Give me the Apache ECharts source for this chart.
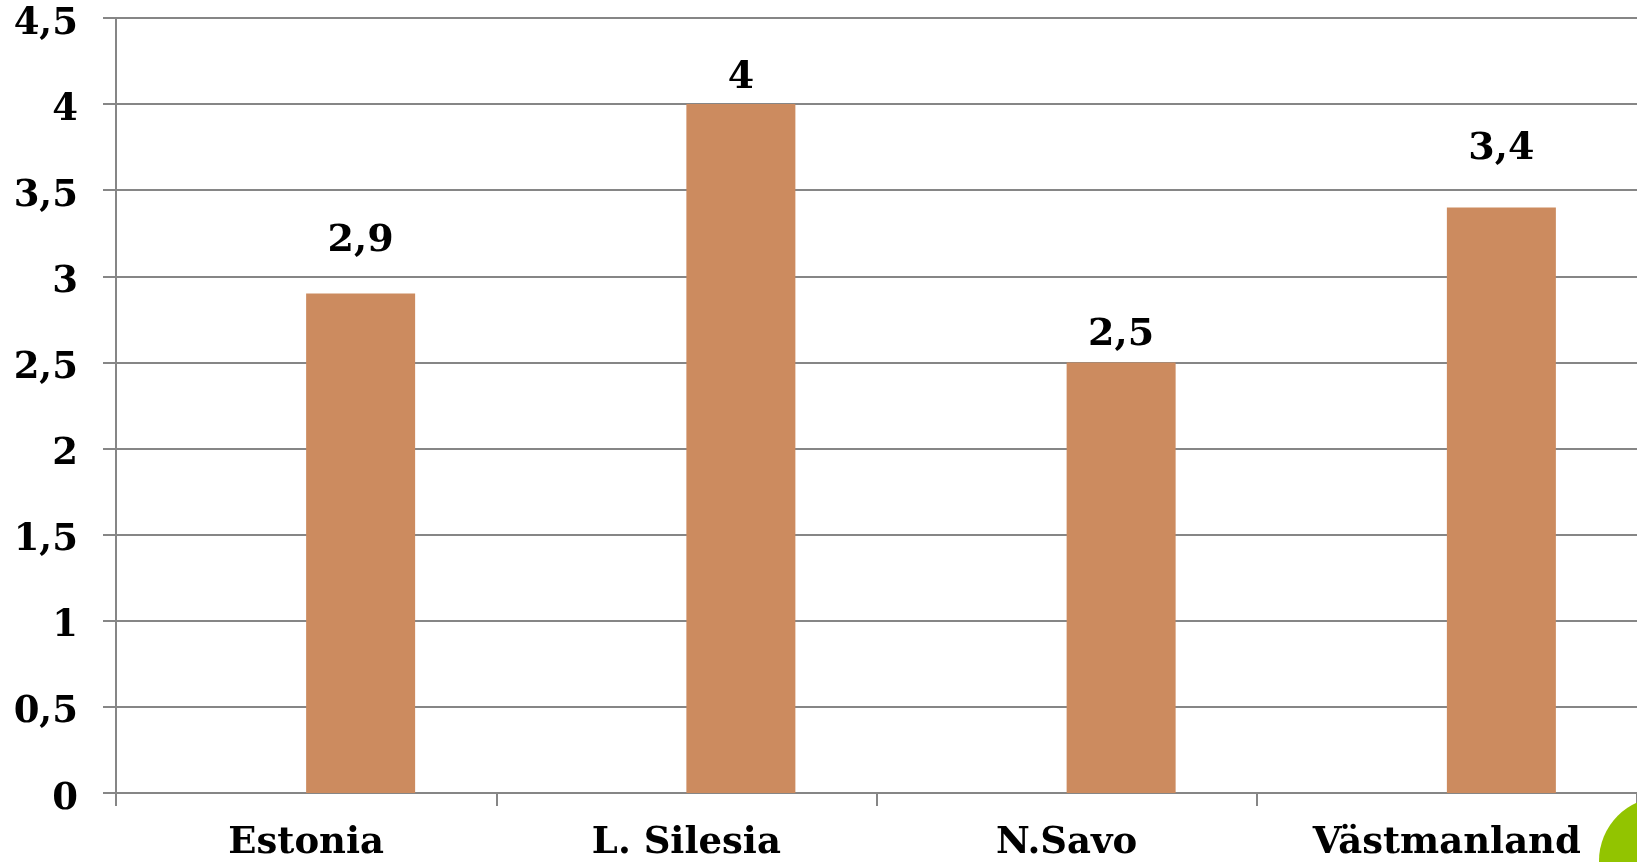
<!DOCTYPE html>
<html>
<head>
<meta charset="utf-8">
<script src="https://cdn.jsdelivr.net/npm/echarts@6/dist/echarts.min.js"></script>
<style>
  html, body { margin: 0; padding: 0; background: #ffffff; }
  #chart { width: 1637px; height: 862px; }
</style>
</head>
<body>
<div id="chart"></div>
<script>
const categories = ['Estonia', 'L. Silesia', 'N.Savo', 'Västmanland'];
const values = [2.9, 4, 2.5, 3.4];
const yTicks = { min: 0, max: 4.5, interval: 0.5 };

const FONT = '"DejaVu Serif", "Liberation Serif", serif';
const fmt = v => String(v).replace('.', ',');
const labelDistances = [33, 7, 8, 39];

const chart = echarts.init(document.getElementById('chart'), null, { renderer: 'canvas' });
chart.setOption({
  animation: false,
  backgroundColor: '#ffffff',
  grid: { left: 116, right: 0, top: 18, bottom: 69, containLabel: false },
  xAxis: {
    type: 'category',
    data: categories,
    axisLine: { show: true, lineStyle: { color: '#868686', width: 2 } },
    axisTick: { show: true, length: 13, lineStyle: { color: '#868686', width: 2 } },
    axisLabel: { margin: 32, color: '#000', fontFamily: FONT, fontWeight: 'bold', fontSize: 37 }
  },
  yAxis: {
    type: 'value',
    min: yTicks.min, max: yTicks.max, interval: yTicks.interval,
    axisLine: { show: true, lineStyle: { color: '#868686', width: 2 } },
    axisTick: { show: true, length: 13, lineStyle: { color: '#868686', width: 2 } },
    splitLine: { show: true, lineStyle: { color: '#868686', width: 2 } },
    axisLabel: {
      margin: 38, color: '#000', fontFamily: FONT, fontWeight: 'bold', fontSize: 37,
      formatter: v => '{a|' + fmt(v) + '}',
      rich: { a: { fontFamily: FONT, fontWeight: 'bold', fontSize: 37, color: '#000', padding: [12, 0, 0, 0] } }
    }
  },
  series: [
    {
      type: 'bar',
      name: 'placeholder',
      data: categories.map(() => '-'),
      barWidth: 109,
      barGap: '0%',
      silent: true
    },
    {
      type: 'bar',
      name: 'value',
      barWidth: 109,
      barGap: '0%',
      itemStyle: { color: '#CC8B5F' },
      label: {
        show: true, position: 'top', color: '#000',
        fontFamily: FONT, fontWeight: 'bold', fontSize: 38,
        formatter: p => fmt(p.value)
      },
      data: values.map((v, i) => ({ value: v, label: { distance: labelDistances[i] } }))
    }
  ],
  graphic: [
    { type: 'circle', shape: { cx: 1663, cy: 861, r: 64 }, style: { fill: '#92C400' }, z: 10 }
  ]
});
</script>
</body>
</html>
